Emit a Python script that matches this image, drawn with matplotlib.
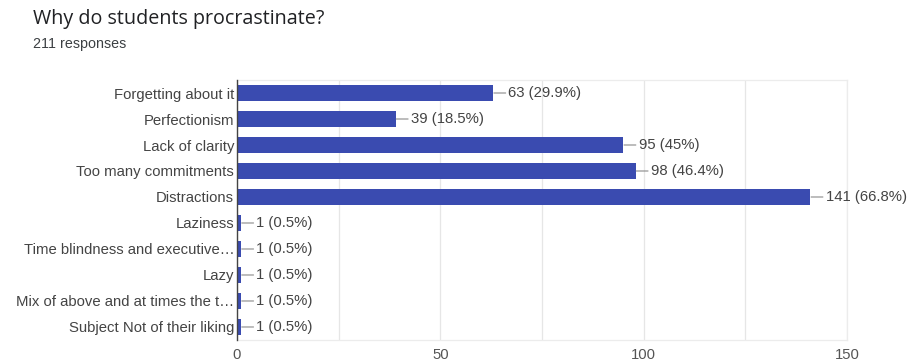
import matplotlib
matplotlib.use("Agg")
import matplotlib.pyplot as plt

categories = ["Forgetting about it", "Perfectionism", "Lack of clarity",
              "Too many commitments", "Distractions", "Laziness",
              "Time blindness and executive…", "Lazy",
              "Mix of above and at times the t…", "Subject Not of their liking"]
counts = [63, 39, 95, 98, 141, 1, 1, 1, 1, 1]
percents = ["29.9%", "18.5%", "45%", "46.4%", "66.8%", "0.5%", "0.5%", "0.5%", "0.5%", "0.5%"]
xticks = [0, 50, 100, 150]

plt.rcParams['font.family'] = ['Liberation Sans', 'DejaVu Sans']

fig = plt.figure(figsize=(9.09, 3.63), dpi=100)
ax = fig.add_axes([0.2607, 0.0634, 0.6711, 0.7162])

fs = 10.7
bar_color = "#3a4bb0"
ypos = list(range(len(categories)))
ax.barh(ypos, counts, height=0.62, color=bar_color, zorder=3)

for y, c, p in zip(ypos, counts, percents):
    ax.annotate(f"{c} ({p})", xy=(c, y), xytext=(11, 0), textcoords="offset points",
                va="center", ha="left", fontsize=fs, color="#444444",
                arrowprops=dict(arrowstyle="-", color="#8a8a8a", lw=0.8,
                                shrinkA=0, shrinkB=0.5), zorder=4,
                annotation_clip=False)

ax.set_xlim(0, 150)
ax.set_ylim(9.5, -0.5)
ax.set_yticks(ypos)
ax.set_yticklabels(categories, fontsize=fs, color="#444444")
ax.set_xticks(xticks)
ax.set_xticklabels([str(t) for t in xticks], fontsize=fs, color="#555555")
ax.set_xticks([25, 75, 125], minor=True)
ax.tick_params(axis="both", which="both", length=0)
ax.tick_params(axis="x", pad=6)
ax.tick_params(axis="y", pad=2)
ax.grid(axis="x", which="both", color="#e6e6e6", lw=0.9, zorder=0)

for s in ["top", "right", "bottom"]:
    ax.spines[s].set_color("#ececec")
    ax.spines[s].set_linewidth(0.9)
ax.spines["left"].set_color("#444444")
ax.spines["left"].set_linewidth(1.0)
ax.spines["left"].set_zorder(5)

fig.text(33 / 909, 1 - 19 / 363, "Why do students procrastinate?", fontsize=14.2,
         color="#202124", va="center", ha="left", family=["Open Sans", "DejaVu Sans"])
fig.text(33 / 909, 1 - 44 / 363, "211 responses", fontsize=10.3,
         color="#3c4043", va="center", ha="left")

fig.savefig("out.png", dpi=100, facecolor="white")
